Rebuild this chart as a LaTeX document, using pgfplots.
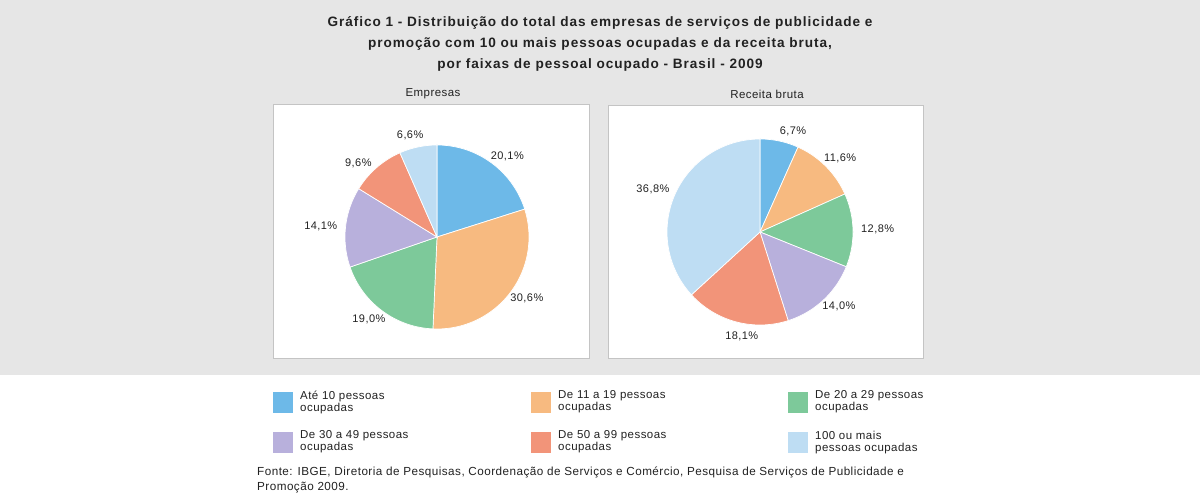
\documentclass[border=0pt]{standalone}
\usepackage{pgfplots}
\pgfplotsset{compat=1.18}
\usepackage{fontspec}
\setmainfont{Liberation Sans}[LetterSpace=4]
\newfontfamily\titlefont{Liberation Sans}[LetterSpace=7]
\definecolor{cA}{HTML}{6DB9E8}
\definecolor{cB}{HTML}{F7BA80}
\definecolor{cC}{HTML}{7DC99A}
\definecolor{cD}{HTML}{B8B0DC}
\definecolor{cE}{HTML}{F29479}
\definecolor{cF}{HTML}{BEDDF3}
\definecolor{bg}{HTML}{E6E6E6}
\definecolor{txt}{HTML}{222222}
\definecolor{frame}{HTML}{C4C4C4}

% slice: cx, cy, r, percentage, color, label, label angle shift
\def\cum{0}
\newcommand{\slice}[7]{%
  \pgfmathsetmacro\sa{90-3.6*\cum}%
  \pgfmathsetmacro\sb{90-3.6*(\cum+#4)}%
  \pgfmathsetmacro\sm{(\sa+\sb)/2+#7}%
  \pgfmathsetmacro\lx{#1+(#3+7)*cos(\sm)}%
  \pgfmathsetmacro\ly{#2+(#3+7)*sin(\sm)}%
  \pgfmathsetmacro\an{mod(\sm+180+720,360)}%
  \edef\tmp{\noexpand\addplot[fill=#5, draw=white, line width=0.7pt, domain=\sb:\sa, samples=70, variable=\noexpand\t] ({#1+#3*cos(\noexpand\t)},{#2+#3*sin(\noexpand\t)}) -- (axis cs:#1,#2) -- cycle;}%
  \tmp
  \edef\tmp{\noexpand\node[anchor=\an, inner sep=1pt, text=txt, font=\noexpand\fontsize{11}{13}\noexpand\selectfont] at (axis cs:\lx,\ly) {#6};}%
  \tmp
  \pgfmathsetmacro\newcum{\cum+#4}%
  \xdef\cum{\newcum}%
}
\newcommand{\legitem}[4]{% x, y(top), color, text
  \fill[#3] (axis cs:#1,#2) rectangle (axis cs:#1+20,#2-21);
  \node[anchor=north west, inner sep=0pt, align=left, text=txt, font=\fontsize{11.5}{12}\selectfont] at (axis cs:#1+27,#2+1.5) {#4};
}

\begin{document}
\begin{tikzpicture}
\begin{axis}[
  at={(0,0)}, anchor=origin,
  width=1200pt, height=500pt, scale only axis,
  xmin=0, xmax=1200, ymin=0, ymax=500,
  hide axis, clip=false,
]
% backgrounds
\fill[white] (axis cs:0,0) rectangle (axis cs:1200,500);
\fill[bg] (axis cs:0,125) rectangle (axis cs:1200,500);
\filldraw[fill=white, draw=frame, line width=0.8pt] (axis cs:273,396) rectangle (axis cs:589,142);
\filldraw[fill=white, draw=frame, line width=0.8pt] (axis cs:608,395) rectangle (axis cs:923,142);

% title
\node[align=center, text=txt, font=\titlefont\fontsize{13.6}{21}\selectfont\bfseries] at (axis cs:600,456) {Gráfico 1 - Distribuição do total das empresas de serviços de publicidade e\\promoção com 10 ou mais pessoas ocupadas e da receita bruta,\\por faixas de pessoal ocupado - Brasil - 2009};

% subtitles
\node[text=txt, font=\fontsize{11.5}{13}\selectfont] at (axis cs:433,406) {Empresas};
\node[text=txt, font=\fontsize{11.5}{13}\selectfont] at (axis cs:767,406) {Receita bruta};

% Empresas pie
\gdef\cum{0}
\slice{437}{263}{92}{20.1}{cA}{20,1\%}{-5}
\slice{437}{263}{92}{30.6}{cB}{30,6\%}{3}
\slice{437}{263}{92}{19.0}{cC}{19,0\%}{-3}
\slice{437}{263}{92}{14.1}{cD}{14,1\%}{1}
\slice{437}{263}{92}{9.6}{cE}{9,6\%}{6}
\slice{437}{263}{92}{6.6}{cF}{6,6\%}{3}

% Receita bruta pie
\gdef\cum{0}
\slice{760}{268}{93}{6.7}{cA}{6,7\%}{-6}
\slice{760}{268}{93}{11.6}{cB}{11,6\%}{-2.5}
\slice{760}{268}{93}{12.8}{cC}{12,8\%}{0}
\slice{760}{268}{93}{14.0}{cD}{14,0\%}{4}
\slice{760}{268}{93}{18.1}{cE}{18,1\%}{5}
\slice{760}{268}{93}{36.8}{cF}{36,8\%}{2}

% legend
\legitem{273}{108}{cA}{Até 10 pessoas\\ocupadas}
\legitem{531}{108}{cB}{De 11 a 19 pessoas\\ocupadas}
\legitem{788}{108}{cC}{De 20 a 29 pessoas\\ocupadas}
\legitem{273}{68}{cD}{De 30 a 49 pessoas\\ocupadas}
\legitem{531}{68}{cE}{De 50 a 99 pessoas\\ocupadas}
\legitem{788}{68}{cF}{100 ou mais\\pessoas ocupadas}

% source
\node[anchor=north west, inner sep=0pt, align=left, text=txt, font=\fontsize{11.7}{14.5}\selectfont] at (axis cs:257,33) {Fonte: IBGE, Diretoria de Pesquisas, Coordenação de Serviços e Comércio, Pesquisa de Serviços de Publicidade e\\Promoção 2009.};
\end{axis}
\end{tikzpicture}
\end{document}
